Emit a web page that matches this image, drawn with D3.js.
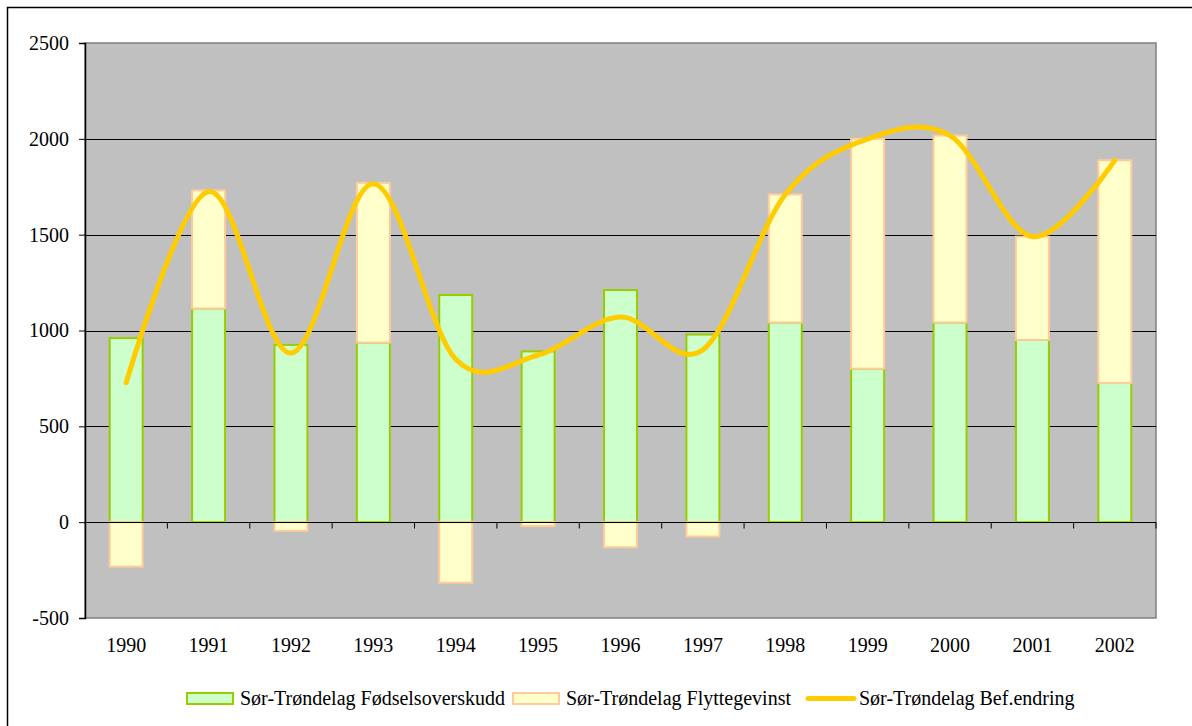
<!DOCTYPE html>
<html>
<head>
<meta charset="utf-8">
<script src="https://cdn.jsdelivr.net/npm/d3@7"></script>
<style>
  html, body { margin: 0; padding: 0; background: #ffffff; }
  svg { display: block; }
</style>
</head>
<body>
<svg id="chart" width="1192" height="726"></svg>
<script>
// Population change in Sør-Trøndelag, 1990–2002
const years = ["1990","1991","1992","1993","1994","1995","1996","1997","1998","1999","2000","2001","2002"];
const fodselsoverskudd = [960, 1115, 925, 937, 1185, 891, 1211, 979, 1042, 801, 1042, 951, 726];
const flyttegevinst    = [-232, 616, -45, 833, -316, -20, -131, -75, 668, 1199, 975, 539, 1162];
const befEndring       = [728, 1725, 882, 1765, 850, 872, 1070, 899, 1710, 2000, 2017, 1490, 1888];
const yTicks = [-500, 0, 500, 1000, 1500, 2000, 2500];
const seriesNames = [
  "Sør-Trøndelag Fødselsoverskudd",
  "Sør-Trøndelag Flyttegevinst",
  "Sør-Trøndelag Bef.endring"
];

const FONT = "'Liberation Serif'";

const svg = d3.select("#chart");

// outer chart frame
svg.append("rect")
  .attr("x", 7.5).attr("y", 7.5)
  .attr("width", 1220).attr("height", 760)
  .attr("fill", "#fff").attr("stroke", "#000").attr("stroke-width", 1.5);

const plot = { left: 85, top: 43, right: 1156, bottom: 618 };

const x = d3.scaleBand()
  .domain(years)
  .range([plot.left, plot.right])
  .paddingInner(0.6)
  .paddingOuter(0.3);

const xCenter = d => x(d) + x.bandwidth() / 2;

const y = d3.scaleLinear()
  .domain([-500, 2500])
  .range([plot.bottom, plot.top]);

// plot area
svg.append("rect")
  .attr("x", plot.left).attr("y", plot.top)
  .attr("width", plot.right - plot.left).attr("height", plot.bottom - plot.top)
  .attr("fill", "#C0C0C0").attr("stroke", "#808080").attr("stroke-width", 1.5);

// horizontal gridlines
svg.append("g")
  .selectAll("line")
  .data(yTicks.filter(v => v > -500 && v < 2500))
  .join("line")
  .attr("x1", plot.left).attr("x2", plot.right)
  .attr("y1", d => Math.round(y(d)) + 0.5).attr("y2", d => Math.round(y(d)) + 0.5)
  .attr("stroke", "#000").attr("stroke-width", 1);

// y axis
const yAxis = d3.axisLeft(y)
  .tickValues(yTicks)
  .tickSize(6)
  .tickPadding(10)
  .tickFormat(d => String(d));

const gy = svg.append("g")
  .attr("transform", `translate(${plot.left},0)`)
  .call(yAxis)
  .attr("font-family", null)
  .attr("font-size", null);
gy.select(".domain").attr("stroke", "#000").attr("stroke-width", 1.5);
gy.selectAll(".tick line").attr("stroke", "#000");
gy.selectAll(".tick text")
  .style("font-family", FONT)
  .style("font-size", "20px")
  .attr("fill", "#000");

// stacked bars: positive values stack upward from 0, negative downward
const stackPos = years.map(() => 0);
const stackNeg = years.map(() => 0);
function barSpans(values) {
  return values.map((v, i) => {
    let y0, y1;
    if (v >= 0) { y0 = stackPos[i]; y1 = y0 + v; stackPos[i] = y1; }
    else { y0 = stackNeg[i]; y1 = y0 + v; stackNeg[i] = y1; }
    return { year: years[i], y0, y1 };
  });
}

const barSeries = [
  { values: fodselsoverskudd, fill: "#CCFFCC", stroke: "#99CC00" },
  { values: flyttegevinst,    fill: "#FFFFCC", stroke: "#FFCC99" }
];

barSeries.forEach(s => {
  svg.append("g")
    .selectAll("rect")
    .data(barSpans(s.values))
    .join("rect")
    .attr("x", d => x(d.year))
    .attr("width", x.bandwidth())
    .attr("y", d => y(Math.max(d.y0, d.y1)))
    .attr("height", d => Math.abs(y(d.y0) - y(d.y1)))
    .attr("fill", s.fill)
    .attr("stroke", s.stroke)
    .attr("stroke-width", 2);
});

// category axis crossing at zero, ticks between categories
const zeroY = Math.round(y(0)) + 0.5;
svg.append("line")
  .attr("x1", plot.left).attr("x2", plot.right)
  .attr("y1", zeroY).attr("y2", zeroY)
  .attr("stroke", "#000").attr("stroke-width", 1.2);

const step = x.step();
svg.append("g")
  .selectAll("line")
  .data(d3.range(1, years.length + 1))
  .join("line")
  .attr("x1", i => x(years[0]) - x.paddingOuter() * step + i * step)
  .attr("x2", i => x(years[0]) - x.paddingOuter() * step + i * step)
  .attr("y1", zeroY).attr("y2", zeroY + 6)
  .attr("stroke", "#000").attr("stroke-width", 1);

// year labels below the plot
svg.append("g")
  .selectAll("text")
  .data(years)
  .join("text")
  .attr("x", d => xCenter(d))
  .attr("y", 652)
  .attr("text-anchor", "middle")
  .style("font-family", FONT)
  .style("font-size", "20px")
  .text(d => d);

// smoothed total-change line
const line = d3.line()
  .x((d, i) => xCenter(years[i]))
  .y(d => y(d))
  .curve(d3.curveCardinal.tension(0));

svg.append("path")
  .datum(befEndring)
  .attr("d", line)
  .attr("fill", "none")
  .attr("stroke", "#FFCC00")
  .attr("stroke-width", 5)
  .attr("stroke-linecap", "round")
  .attr("stroke-linejoin", "round");

// legend
const legend = svg.append("g");
const legendItems = [
  { name: seriesNames[0], x: 187, type: "rect", fill: "#CCFFCC", stroke: "#99CC00" },
  { name: seriesNames[1], x: 513, type: "rect", fill: "#FFFFCC", stroke: "#FFCC99" },
  { name: seriesNames[2], x: 806, type: "line", stroke: "#FFCC00" }
];
legendItems.forEach(it => {
  if (it.type === "rect") {
    legend.append("rect")
      .attr("x", it.x).attr("y", 693)
      .attr("width", 46).attr("height", 11)
      .attr("fill", it.fill).attr("stroke", it.stroke).attr("stroke-width", 2);
  } else {
    legend.append("line")
      .attr("x1", it.x + 2).attr("x2", it.x + 48)
      .attr("y1", 698.5).attr("y2", 698.5)
      .attr("stroke", it.stroke).attr("stroke-width", 5)
      .attr("stroke-linecap", "round");
  }
  legend.append("text")
    .attr("x", it.x + 53)
    .attr("y", 705)
    .style("font-family", FONT)
    .style("font-size", "20px")
    .text(it.name);
});
</script>
</body>
</html>
